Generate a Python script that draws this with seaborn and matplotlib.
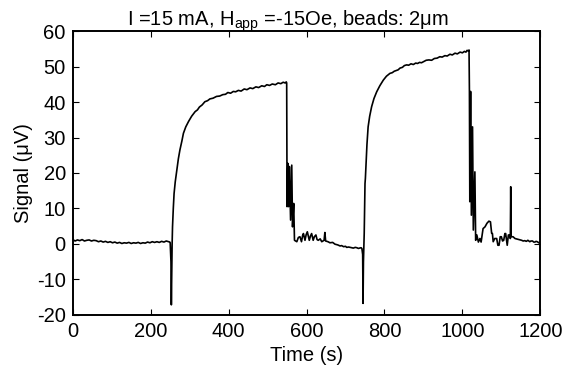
import matplotlib
matplotlib.use("Agg")
import matplotlib.pyplot as plt
import seaborn as sns
import pandas as pd

# ---- data ----
time_s = [
    0, 6, 12, 18, 24, 30, 36, 42, 48, 54, 60, 66, 72, 78, 84, 90, 96, 102, 108, 114,
    120, 126, 132, 138, 144, 150, 156, 162, 168, 174, 180, 186, 192, 198, 204, 210,
    216, 222, 228, 234, 240, 246, 249,
    250, 252, 253, 254, 255, 256, 258, 260, 263, 267, 271, 275, 280, 284, 290, 297,
    305, 314, 320, 325, 332, 339, 346, 352, 360, 369, 377, 385, 392, 398, 405, 412,
    418, 425, 432, 440, 447, 455, 462, 470, 477, 485, 492, 498, 505, 512, 520, 527,
    534, 540, 545, 548,
    549, 550, 552, 554, 556, 559, 562, 564, 567, 569, 575, 579, 583, 587, 590, 592,
    596, 599, 602, 607, 610, 613, 617, 620, 624, 627, 630, 635, 639, 645, 647, 649,
    655, 660, 667, 673, 680, 686, 690, 695, 700, 703, 708, 712, 716, 720, 725, 729,
    733, 736, 740, 742,
    744, 745, 746, 748, 750, 751, 753, 755, 758, 762, 767, 773, 780, 788, 797, 805,
    814, 820, 825, 830, 835, 840, 846, 851, 857, 862, 868, 874, 880, 885, 890, 895,
    900, 907, 914, 921, 928, 935, 942, 948, 955, 961, 968, 974, 981, 987, 994, 1000,
    1005, 1009, 1012, 1015, 1017,
    1018, 1019, 1021, 1023, 1026, 1028, 1032, 1034, 1037, 1041, 1045, 1048, 1053,
    1058, 1063, 1068, 1072, 1075, 1077, 1079, 1083, 1088, 1091, 1094, 1097, 1100,
    1103, 1106, 1109, 1111, 1115, 1118, 1120, 1123, 1124, 1125, 1130, 1135, 1142,
    1148, 1152, 1156, 1160, 1164, 1168, 1173, 1176, 1180, 1183, 1186, 1189, 1192,
    1196, 1199,
]
signal_uV = [
    1.2, 0.8, 1.1, 0.9, 1.2, 0.8, 1.0, 1.1, 0.8, 1.0, 0.9, 0.6, 0.8, 0.5, 0.7, 0.4,
    0.6, 0.3, 0.5, 0.2, 0.4, 0.1, 0.3, 0.2, 0.4, 0.1, 0.3, 0.2, 0.4, 0.1, 0.3, 0.2,
    0.5, 0.3, 0.6, 0.4, 0.6, 0.4, 0.7, 0.5, 0.8, 0.6, 0.5,
    0.3, -5.0, -17.2, -8.0, 0.0, 4.8, 10.0, 14.2, 17.5, 20.8, 24.0, 26.5, 29.0, 31.2,
    33.0, 34.5, 36.0, 37.3, 37.8, 38.6, 39.2, 40.1, 40.4, 40.9, 41.1, 41.6, 41.7,
    42.1, 42.2, 42.7, 42.5, 43.0, 42.9, 43.3, 43.1, 43.7, 43.5, 44.0, 43.8, 44.3,
    44.1, 44.6, 44.4, 44.9, 44.7, 45.1, 44.9, 45.4, 45.2, 45.6, 45.4, 45.7,
    45.4, 10.5, 22.7, 10.5, 21.8, 6.7, 22.2, 4.8, 11.4, 1.0, 0.6, 1.8, 2.0, 0.6, 2.4,
    2.9, 1.0, 2.6, 3.4, 1.0, 2.2, 2.9, 1.0, 2.0, 2.5, 1.2, 1.0, 1.4, 0.6, 1.0, 3.2,
    0.8, 0.6, 0.3, 0.4, -0.1, -0.3, -0.6, -0.5, -0.8, -0.7, -1.0, -0.9, -1.0, -1.1,
    -1.2, -1.0, -1.1, -1.3, -1.2, -1.1, -1.3,
    -3.0, -16.8, -5.0, 3.0, 17.0, 18.5, 23.6, 28.0, 33.0, 36.0, 38.7, 41.0, 42.9,
    44.6, 46.2, 47.3, 48.1, 48.3, 48.7, 48.9, 49.1, 49.6, 49.8, 50.3, 50.5, 50.4,
    50.8, 50.6, 51.0, 50.9, 51.2, 51.1, 51.4, 51.8, 51.9, 51.8, 52.3, 52.4, 52.8,
    52.7, 53.1, 53.0, 53.5, 53.3, 53.8, 53.6, 54.1, 53.9, 54.3, 54.1, 54.6, 54.4,
    54.7,
    42.9, 11.9, 43.0, 8.1, 33.0, 3.9, 20.3, 1.0, 2.5, 0.5, 1.5, 0.5, 4.3, 4.8, 5.8,
    6.4, 6.2, 3.0, 2.9, 0.6, 1.5, 1.5, -0.4, -0.4, 2.0, 2.0, 0.8, 1.0, 2.9, 2.9,
    -0.4, 2.5, 2.5, 1.5, 16.1, 2.0, 2.0, 1.5, 1.3, 1.1, 1.0, 0.8, 0.9, 0.7, 1.0,
    0.6, 0.8, 0.8, 0.5, 0.5, 0.7, 0.6, 0.3, 0.2,
]
x_ticks = [0, 200, 400, 600, 800, 1000, 1200]
y_ticks = [-20, -10, 0, 10, 20, 30, 40, 50, 60]
title_text = "I =15 mA, H$_{\\rm app}$ =-15Oe, beads: 2\u03bcm"

df = pd.DataFrame({"time": time_s, "signal": signal_uV})

sns.set_style("ticks")
plt.rcParams["font.family"] = ["Liberation Sans", "DejaVu Sans"]
plt.rcParams["mathtext.fontset"] = "custom"
plt.rcParams["mathtext.rm"] = "Liberation Sans"
plt.rcParams["mathtext.it"] = "Liberation Sans"
for k in ["text.color", "axes.labelcolor", "xtick.color", "ytick.color", "axes.edgecolor"]:
    plt.rcParams[k] = "black"

FS = 14.5

fig = plt.figure(figsize=(5.73, 3.76), dpi=100)
ax = fig.add_axes([0.127, 0.163, 0.816, 0.754])

sns.lineplot(data=df, x="time", y="signal", ax=ax, color="black",
             linewidth=1.2, estimator=None, sort=False)

ax.set_xlim(0, 1200)
ax.set_ylim(-20, 60)
ax.set_xticks(x_ticks)
ax.set_yticks(y_ticks)
ax.set_xticklabels([str(t) for t in x_ticks])
ax.set_yticklabels([str(t) for t in y_ticks])
ax.tick_params(direction="in", length=4, width=0.8, top=True, right=True,
               labelsize=FS, colors="black", pad=5)
for s in ax.spines.values():
    s.set_visible(True)
    s.set_linewidth(1.4)
    s.set_color("black")
ax.set_xlabel("Time (s)", fontsize=FS, labelpad=4)
ax.set_ylabel("Signal (\u03bcV)", fontsize=FS, labelpad=3)
ax.set_title(title_text, fontsize=FS, pad=4, x=0.46)

fig.savefig("out.png", dpi=100)
